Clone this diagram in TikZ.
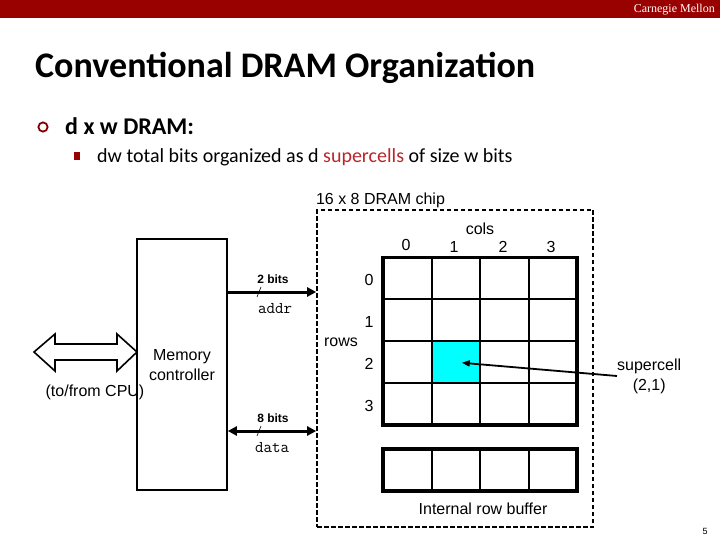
\documentclass[tikz,border=0pt]{standalone}
\usepackage{fontspec}
\setmainfont{Liberation Sans}
\newfontfamily\slidefont{Carlito}
\newfontfamily\cmufont{Liberation Serif}
\usetikzlibrary{arrows.meta, calc, positioning}
\definecolor{cmuRed}{HTML}{990000}
\definecolor{cmuText}{HTML}{B8262B}
\definecolor{cellCyan}{HTML}{00FFFF}
\tikzset{
  lbl/.style      = {font=\fontsize{16}{20}\selectfont, inner sep=0pt, anchor=base},
  bitlbl/.style   = {font=\bfseries\fontsize{12}{14}\selectfont, inner sep=0pt, anchor=base},
  codelbl/.style  = {font=\ttfamily\fontsize{16.5}{18}\selectfont, inner sep=0pt, anchor=base},
  slidetxt/.style = {font=\slidefont, inner sep=0pt, anchor=base west},
  ctrlbox/.style  = {draw, line width=1.6pt, minimum width=90pt, minimum height=251pt, inner sep=0pt},
  chipbox/.style  = {draw, line width=1.6pt, dash pattern=on 4.5pt off 2.5pt,
                     minimum width=276pt, minimum height=317pt, inner sep=0pt},
  cell/.style     = {draw, line width=2pt, minimum width=48.5pt, minimum height=41.9pt,
                     inner sep=0pt, outer sep=0pt},
  outerline/.style = {line width=3.5pt},
  bus/.style      = {line width=3pt},
  tick/.style     = {line width=0.6pt},
  pointer/.style  = {-{Triangle[length=8pt,width=6pt]}, line width=1.8pt},
}

\begin{document}
\begin{tikzpicture}[x=1pt,y=-1pt]
  \useasboundingbox (0,0) rectangle (720,540);
  % slide header
  \fill[cmuRed] (0,0) rectangle (720,18);
  \node[font=\cmufont\fontsize{12}{13}\selectfont, text=white, inner sep=0pt, anchor=base east]
    (cmu) at (715,13) {Carnegie Mellon};
  \node[slidetxt, font=\slidefont\bfseries\fontsize{36}{40}\selectfont] (title) at (35,78)
    {Conventional DRAM Organization};
  \draw[cmuRed!85!black, line width=1.8pt] (43,127) circle (4.6);
  \node[slidetxt, font=\slidefont\bfseries\fontsize{24}{28}\selectfont] (item) at (65,135)
    {d x w DRAM:};
  \fill[cmuRed] (74,152) rectangle (80,160);
  \node[slidetxt, font=\slidefont\fontsize{20}{24}\selectfont] (subitem) at (97,163)
    {dw total bits organized as d \textcolor{cmuText}{supercells} of size w bits};

  % memory controller
  \node[ctrlbox] (ctrl) at (182,364.5) {};
  \node[lbl, align=center] (ctrltxt) at (182,380) {Memory\\controller};
  \node[lbl] (cputxt) at (95,396) {(to/from CPU)};
  \draw[line width=1.6pt, fill=white] (34,352) -- (55,334) -- (55,344) -- (117,344)
    -- (117,334) -- (137,352) -- (117,371) -- (117,360) -- (55,360) -- (55,371) -- cycle;

  % DRAM chip
  \node[chipbox] (chip) at (455,368.5) {};
  \node[lbl] (chiptxt) at (380.5,205) {16 x 8 DRAM chip};

  \foreach \r in {0,...,3}
    \foreach \c in {0,...,3}
      \node[cell] (cell-\r-\c) at ({407.25+48.5*\c},{278.45+41.9*\r}) {};
  \node[cell, fill=cellCyan] at (cell-2-1) {};
  \draw[outerline] (cell-0-0.north west) rectangle (cell-3-3.south east);

  \foreach \c in {0,...,3}
    \node[cell] (buf-\c) at ({407.25+48.5*\c},470.15) {};
  \draw[outerline] (buf-0.north west) rectangle (buf-3.south east);

  \node[lbl] (colstxt) at (480,235) {cols};
  \node[lbl] (col-0) at (406,250) {0};
  \foreach \c/\x in {1/454,2/503,3/551}
    \node[lbl] (col-\c) at (\x,252) {\c};
  \foreach \r in {0,...,3}
    \node[lbl] (row-\r) at (369,{285+42*\r}) {\r};
  \node[lbl] (rowstxt) at (341,346) {rows};
  \node[lbl] (buftxt) at (483,514) {Internal row buffer};

  % supercell pointer
  \node[lbl, anchor=west, align=center] (superlbl) at (617,376) {supercell\\(2,1)};
  \draw[pointer, shorten >=6pt] (superlbl.west) -- (cell-2-1.center);

  % address and data buses
  \coordinate (addrlvl) at (0,292);
  \coordinate (datalvl) at (0,431);
  \draw[bus, -{Triangle[length=9pt,width=9pt]}] (ctrl.east |- addrlvl) -- (chip.west |- addrlvl);
  \draw[bus, {Triangle[length=9pt,width=9pt]}-{Triangle[length=9pt,width=9pt]}]
    (ctrl.east |- datalvl) -- (chip.west |- datalvl);
  \draw[tick] (257,297) -- (261,287);
  \draw[tick] (257,436) -- (261,426);
  \node[bitlbl] (addrbits) at (273,283) {2 bits};
  \node[codelbl] (addrtxt) at (275,313) {addr};
  \node[bitlbl] (databits) at (273,422) {8 bits};
  \node[codelbl] (datatxt) at (272,452) {data};

  \node[font=\fontsize{9}{10}\selectfont, inner sep=0pt, anchor=base] (pagenum) at (705,534) {5};
\end{tikzpicture}
\end{document}
